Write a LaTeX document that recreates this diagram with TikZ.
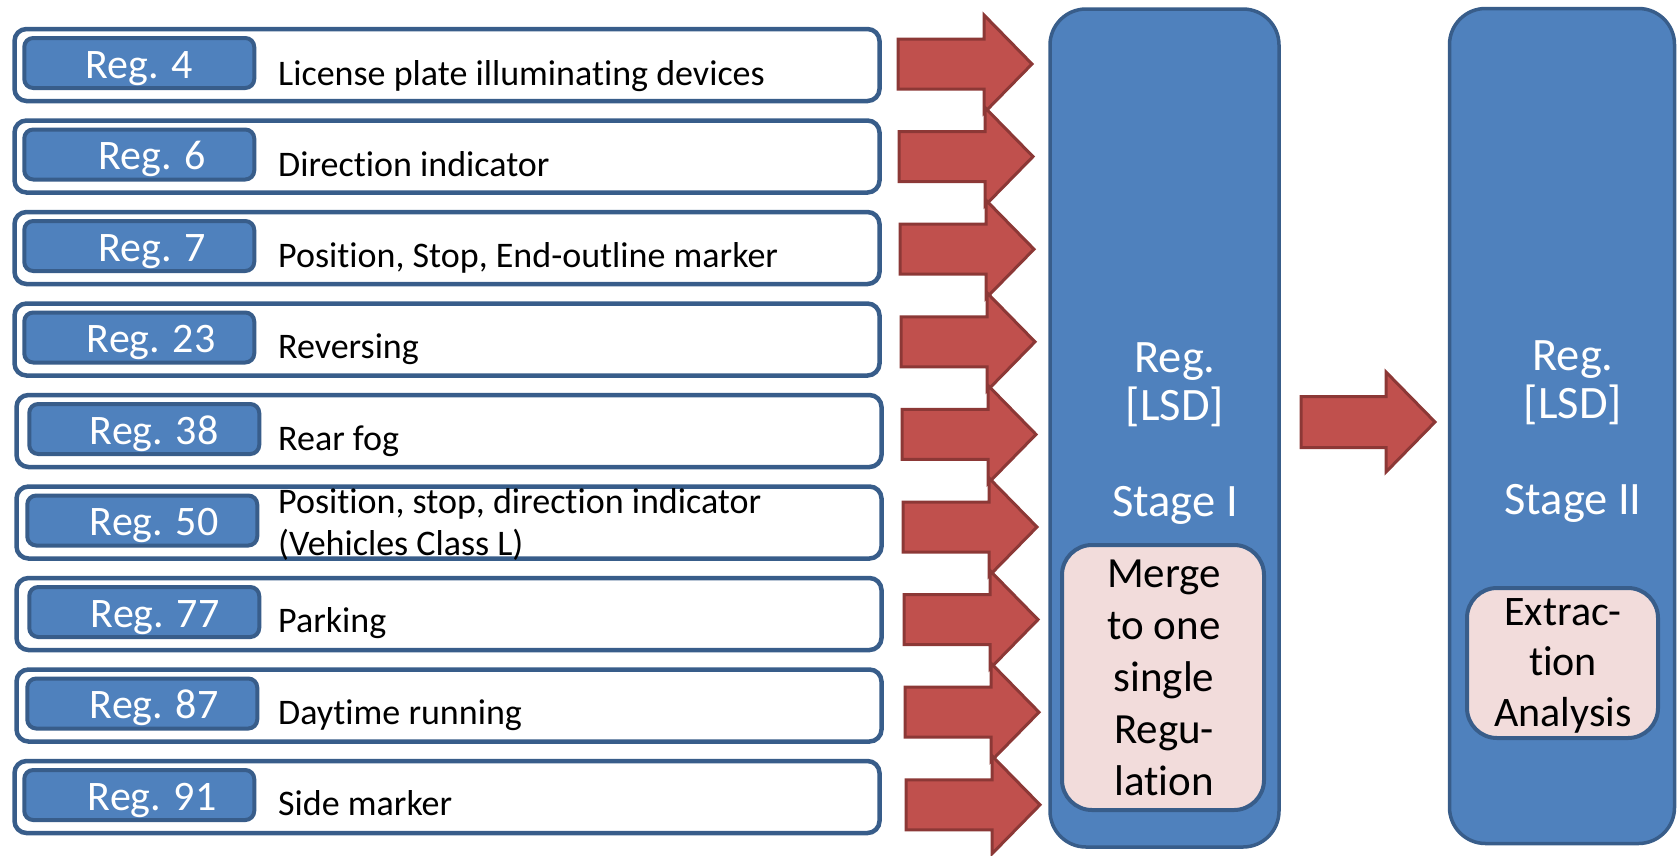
\documentclass[tikz,border=0pt]{standalone}
\usepackage{fontspec}
\setmainfont{Carlito}[Ligatures=NoCommon]
\usetikzlibrary{positioning}

\definecolor{regblue}{HTML}{4F81BD}
\definecolor{regline}{HTML}{385D8A}
\definecolor{arrred}{HTML}{C0504D}
\definecolor{arrline}{HTML}{8C3836}
\definecolor{mergepink}{HTML}{F2DCDB}

\tikzset{
  rowbox/.style={draw=regline, line width=4.5pt, fill=white, rounded corners=12pt,
    minimum width=865pt, minimum height=72pt, inner sep=0pt},
  regtab/.style={draw=regline, line width=4pt, fill=regblue, rounded corners=9pt,
    minimum width=230pt, minimum height=50pt, inner sep=0pt, text=white,
    font=\fontsize{42}{50}\selectfont, text height=30pt, text depth=0pt},
  desc/.style={anchor=base west, inner sep=0pt, align=left,
    font=\fontsize{36}{42}\selectfont},
  redarrow/.style={draw=arrline, line width=3pt, fill=arrred},
  stagebox/.style={draw=regline, line width=3.5pt, fill=regblue, rounded corners=36pt,
    inner sep=0pt},
  stagetext/.style={anchor=base, text=white, align=center, inner sep=0pt,
    font=\fontsize{46.5}{48}\selectfont},
  mergebox/.style={draw=regline, line width=4pt, fill=mergepink, rounded corners=30pt,
    inner sep=0pt},
  mergetext/.style={anchor=base, align=center, inner sep=0pt,
    font=\fontsize{43}{52}\selectfont}
}

\begin{document}
\begin{tikzpicture}[x=1pt, y=-1pt]

\useasboundingbox (0,0) rectangle (1678,855);

% regulation rows
\node[rowbox] (row4) at (447,65) {};
\node[regtab, right=10pt of row4.west, yshift=2pt] (reg4) {Reg. 4};
\node[desc] (desc4) at (278,85) {License plate illuminating devices};

\node[rowbox] (row6) at (447,156.5) {};
\node[regtab, right=10pt of row6.west, yshift=2pt] (reg6) {\hspace*{26pt}Reg. 6};
\node[desc] (desc6) at (278,176.5) {Direction indicator};

\node[rowbox] (row7) at (447,248) {};
\node[regtab, right=10pt of row7.west, yshift=2pt] (reg7) {\hspace*{26pt}Reg. 7};
\node[desc] (desc7) at (278,267.5) {Position, Stop, End-outline marker};

\node[rowbox] (row23) at (447,339.5) {};
\node[regtab, right=10pt of row23.west, yshift=2pt] (reg23) {\hspace*{24pt}Reg. 23};
\node[desc] (desc23) at (278,358.5) {Reversing};

\node[rowbox] (row38) at (449,431) {};
\node[regtab, right=13pt of row38.west, yshift=2pt] (reg38) {\hspace*{20pt}Reg. 38};
\node[desc] (desc38) at (278,450) {Rear fog};

\node[rowbox] (row50) at (449,522.5) {};
\node[regtab, right=11pt of row50.west, yshift=2pt] (reg50) {\hspace*{24pt}Reg. 50};
\node[desc] (desc50) at (278,555) {Position, stop, direction indicator\\(Vehicles Class L)};

\node[rowbox] (row77) at (449,614) {};
\node[regtab, right=13pt of row77.west, yshift=2pt] (reg77) {\hspace*{22pt}Reg. 77};
\node[desc] (desc77) at (278,632) {Parking};

\node[rowbox] (row87) at (449,705.5) {};
\node[regtab, right=11pt of row87.west, yshift=2pt] (reg87) {\hspace*{24pt}Reg. 87};
\node[desc] (desc87) at (278,724) {Daytime running};

\node[rowbox] (row91) at (447,797) {};
\node[regtab, right=10pt of row91.west, yshift=2pt] (reg91) {\hspace*{26pt}Reg. 91};
\node[desc] (desc91) at (278,815.5) {Side marker};

% red arrows into stage I
\draw[redarrow] (898,39) -- ++(86,0) -- ++(0,-24) -- ++(48,49) -- ++(-48,49) -- ++(0,-24) -- ++(-86,0) -- cycle;
\draw[redarrow] (899,131.6) -- ++(86,0) -- ++(0,-24) -- ++(48,49) -- ++(-48,49) -- ++(0,-24) -- ++(-86,0) -- cycle;
\draw[redarrow] (900,224.2) -- ++(86,0) -- ++(0,-24) -- ++(48,49) -- ++(-48,49) -- ++(0,-24) -- ++(-86,0) -- cycle;
\draw[redarrow] (901,316.8) -- ++(86,0) -- ++(0,-24) -- ++(48,49) -- ++(-48,49) -- ++(0,-24) -- ++(-86,0) -- cycle;
\draw[redarrow] (902,409.4) -- ++(86,0) -- ++(0,-24) -- ++(48,49) -- ++(-48,49) -- ++(0,-24) -- ++(-86,0) -- cycle;
\draw[redarrow] (903,502) -- ++(86,0) -- ++(0,-24) -- ++(48,49) -- ++(-48,49) -- ++(0,-24) -- ++(-86,0) -- cycle;
\draw[redarrow] (904,594.6) -- ++(86,0) -- ++(0,-24) -- ++(48,49) -- ++(-48,49) -- ++(0,-24) -- ++(-86,0) -- cycle;
\draw[redarrow] (905,687.2) -- ++(86,0) -- ++(0,-24) -- ++(48,49) -- ++(-48,49) -- ++(0,-24) -- ++(-86,0) -- cycle;
\draw[redarrow] (906,779.8) -- ++(86,0) -- ++(0,-24) -- ++(48,49) -- ++(-48,49) -- ++(0,-24) -- ++(-86,0) -- cycle;

% stages
\node[stagebox, minimum width=229pt, minimum height=838pt] (stage1) at (1164.5,428) {};
\node[stagetext] (stage1txt) at (1175,516) {Reg.\\{[LSD]}\\[48pt]Stage I};
\node[mergebox, minimum width=202pt, minimum height=265pt] (merge) at (1163,677.5) {};
\node[mergetext] (mergetxt) at (1164,795) {Merge\\to one\\single\\Regu-\\lation};

\node[stagebox, minimum width=225pt, minimum height=835pt] (stage2) at (1562,426) {};
\node[stagetext] (stage2txt) at (1573,514) {Reg.\\{[LSD]}\\[48pt]Stage II};
\node[mergebox, minimum width=191pt, minimum height=150pt] (extract) at (1562.5,663) {};
\node[mergetext, font=\fontsize{42}{50.5}\selectfont] (extracttxt) at (1563,726) {Extrac-\\tion\\Analysis};

% stage I to stage II
\draw[redarrow] (1301,396.5) -- ++(85,0) -- ++(0,-24.5) -- ++(49,50) -- ++(-49,50) -- ++(0,-24.5) -- ++(-85,0) -- cycle;

\end{tikzpicture}
\end{document}
